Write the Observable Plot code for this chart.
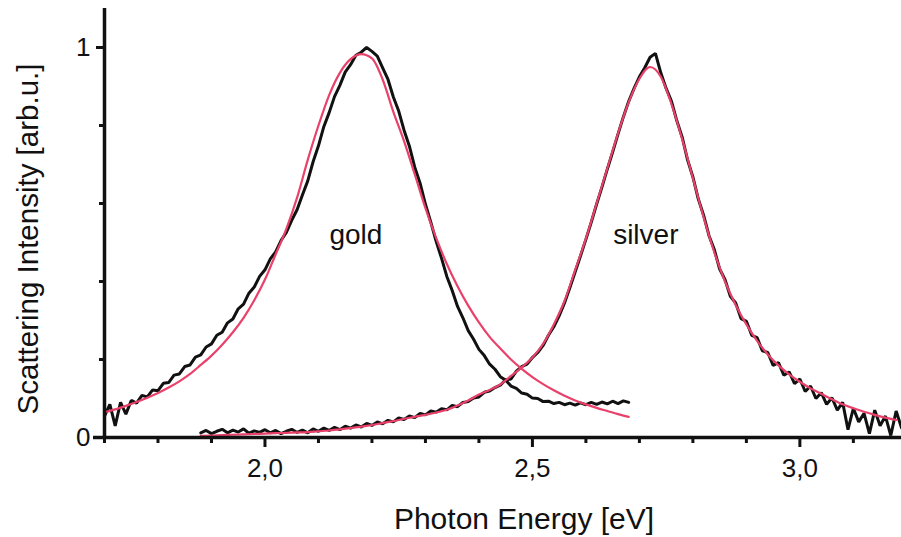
<!DOCTYPE html>
<html>
<head>
<meta charset="utf-8">
<script src="https://cdn.jsdelivr.net/npm/d3@7"></script>
<script src="https://cdn.jsdelivr.net/npm/@observablehq/plot@0.6"></script>
<style>
  html, body { margin: 0; padding: 0; background: #fff; }
  #chart svg { display: block; }
</style>
</head>
<body>
<div id="chart"></div>
<script>
// ---- data ----
// measured gold spectrum, energies 1.70 .. 2.68 eV in steps of 0.01 eV
const goldStart = 1.70, goldStep = 0.01;
const goldMeasured = [
  0.055,0.085,0.030,0.090,0.060,0.095,0.088,0.108,0.104,0.122,
  0.120,0.139,0.141,0.160,0.163,0.182,0.186,0.206,0.212,0.232,
  0.240,0.262,0.270,0.294,0.304,0.330,0.342,0.370,0.386,0.413,
  0.430,0.458,0.476,0.505,0.526,0.557,0.584,0.622,0.658,0.707,
  0.748,0.797,0.833,0.874,0.903,0.937,0.956,0.980,0.988,1.000,
  0.990,0.978,0.948,0.918,0.873,0.837,0.788,0.747,0.693,0.652,
  0.598,0.552,0.503,0.460,0.413,0.377,0.336,0.307,0.274,0.252,
  0.226,0.210,0.188,0.175,0.156,0.147,0.132,0.126,0.114,0.111,
  0.101,0.100,0.092,0.093,0.087,0.090,0.084,0.088,0.083,0.089,
  0.084,0.090,0.085,0.091,0.086,0.093,0.087,0.094,0.090
];
// fitted gold curve, energies 1.70 .. 2.68 eV in steps of 0.02 eV
const goldFitStart = 1.70, goldFitStep = 0.02;
const goldFit = [
  0.065,0.072,0.081,0.091,0.102,0.114,0.128,0.144,0.163,0.186,
  0.210,0.238,0.270,0.307,0.352,0.405,0.470,0.535,0.615,0.712,
  0.800,0.878,0.935,0.970,0.983,0.972,0.918,0.835,0.760,0.675,
  0.588,0.512,0.445,0.388,0.338,0.295,0.258,0.228,0.200,0.176,
  0.155,0.137,0.121,0.107,0.095,0.085,0.076,0.068,0.060,0.053
];
// measured silver spectrum, energies 1.88 .. 3.19 eV in steps of 0.01 eV
const silverStart = 1.88, silverStep = 0.01;
const silverMeasured = [
  0.012,0.018,0.010,0.016,0.021,0.012,0.019,0.014,0.022,0.011,
  0.017,0.013,0.020,0.012,0.018,0.010,0.016,0.021,0.013,0.019,
  0.012,0.022,0.016,0.024,0.018,0.026,0.020,0.029,0.024,0.032,
  0.027,0.036,0.031,0.040,0.035,0.044,0.040,0.050,0.046,0.055,
  0.051,0.062,0.058,0.068,0.065,0.074,0.071,0.082,0.079,0.090,
  0.092,0.101,0.104,0.116,0.119,0.128,0.134,0.148,0.150,0.170,
  0.182,0.188,0.205,0.218,0.236,0.262,0.284,0.312,0.345,0.384,
  0.425,0.466,0.508,0.552,0.598,0.642,0.688,0.732,0.778,0.822,
  0.862,0.895,0.925,0.948,0.975,0.985,0.935,0.895,0.862,0.812,
  0.770,0.712,0.668,0.612,0.570,0.518,0.482,0.432,0.405,0.362,
  0.345,0.305,0.298,0.262,0.256,0.222,0.218,0.185,0.192,0.160,
  0.168,0.138,0.150,0.118,0.132,0.100,0.115,0.085,0.102,0.070,
  0.090,0.020,0.075,0.040,0.062,0.010,0.070,0.030,0.055,0.005,
  0.068,0.025
];
// fitted silver curve, energies 1.88 .. 3.18 eV in steps of 0.02 eV
const silverFitStart = 1.88, silverFitStep = 0.02;
const silverFit = [
  0.004,0.005,0.006,0.007,0.008,0.009,0.010,0.011,0.012,0.013,
  0.014,0.016,0.018,0.021,0.024,0.028,0.032,0.037,0.042,0.048,
  0.053,0.058,0.064,0.071,0.082,0.095,0.110,0.122,0.136,0.158,
  0.180,0.205,0.240,0.290,0.350,0.430,0.510,0.600,0.690,0.780,
  0.860,0.920,0.950,0.925,0.855,0.765,0.665,0.565,0.475,0.400,
  0.340,0.290,0.248,0.213,0.185,0.162,0.143,0.126,0.112,0.098,
  0.085,0.075,0.066,0.058,0.051,0.045
];
// annotation labels
const labelNames = ["gold", "silver"];
const labelE = [2.170, 2.712];
const labelI = [0.52, 0.52];
// axis ticks
const xMajor = [2.0, 2.5, 3.0];
const xMinor = [1.7, 1.8, 1.9, 2.1, 2.2, 2.3, 2.4, 2.6, 2.7, 2.8, 2.9, 3.1];
const yMajor = [0, 1];
const yMinor = [0.2, 0.4, 0.6, 0.8];
const xTitle = "Photon Energy [eV]";
const yTitle = "Scattering Intensity [arb.u.]";

// ---- build tables ----
const series = (start, step, vals, name) =>
  vals.map((v, i) => ({E: +(start + i * step).toFixed(3), I: v, s: name}));
const meas = [
  ...series(goldStart, goldStep, goldMeasured, "gold"),
  ...series(silverStart, silverStep, silverMeasured, "silver")
];
const fits = [
  ...series(goldFitStart, goldFitStep, goldFit, "gold"),
  ...series(silverFitStart, silverFitStep, silverFit, "silver")
];
const labels = labelNames.map((n, i) => ({n, E: labelE[i], I: labelI[i]}));
const fmt = d => d.toFixed(1).replace(".", ",");

const font = "Arial, 'Liberation Sans', Helvetica, sans-serif";
const red = "#e9416a";

const chart = Plot.plot({
  width: 901,
  height: 537,
  marginLeft: 104,
  marginRight: 0,
  marginTop: 8,
  marginBottom: 100,
  style: {fontFamily: font, background: "#fff", color: "#111"},
  x: {domain: [1.7, 3.19], label: null},
  y: {domain: [0, 1.1], label: null},
  marks: [
    // measured spectra
    Plot.line(meas, {x: "E", y: "I", z: "s", stroke: "#111", strokeWidth: 3, strokeLinejoin: "miter"}),
    // fits
    Plot.line(fits, {x: "E", y: "I", z: "s", stroke: red, strokeWidth: 2.2, curve: "monotone-x"}),
    // annotations
    Plot.text(labels, {x: "E", y: "I", text: "n", fontSize: 28, fill: "#111", lineAnchor: "middle"}),
    // axes
    Plot.axisX({ticks: xMinor, tickSize: 6, tickFormat: () => "", strokeWidth: 3, label: null}),
    Plot.axisX({ticks: xMajor, tickSize: 10, tickPadding: 11, tickFormat: fmt, fontSize: 26, strokeWidth: 3, label: null}),
    Plot.axisY({ticks: yMinor, tickSize: 5, tickFormat: () => "", strokeWidth: 3, label: null}),
    Plot.axisY({ticks: yMajor, tickSize: 8, tickPadding: 6, tickFormat: d => String(d), fontSize: 26, strokeWidth: 3, label: null}),
    Plot.ruleY([0], {stroke: "#111", strokeWidth: 3.5, insetLeft: -11}),
    Plot.ruleX([1.7], {stroke: "#111", strokeWidth: 3.5}),
    // titles
    Plot.text([xTitle], {frameAnchor: "bottom", textAnchor: "middle", dx: 21, dy: 82, fontSize: 30, fill: "#111", lineAnchor: "middle"}),
    Plot.text([yTitle], {frameAnchor: "left", textAnchor: "middle", rotate: -90, dx: -76, dy: 16, fontSize: 29.5, fill: "#111", lineAnchor: "middle"})
  ]
});
document.getElementById("chart").appendChild(chart);
</script>
</body>
</html>
